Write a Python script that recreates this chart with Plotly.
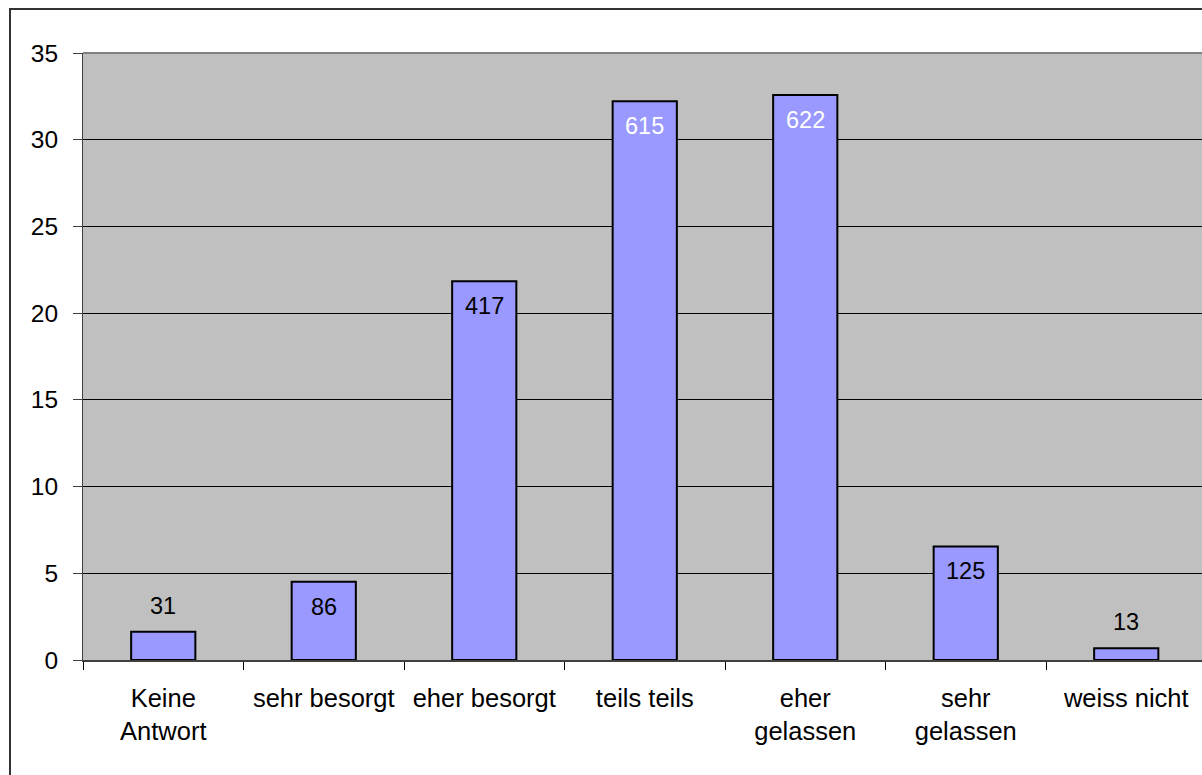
import plotly.graph_objects as go

# Survey answers and respondent counts per answer
categories = ["Keine<br>Antwort", "sehr besorgt", "eher besorgt", "teils teils",
              "eher<br>gelassen", "sehr<br>gelassen", "weiss nicht"]
counts = [31, 86, 417, 615, 622, 125, 13]
y_ticks = [0, 5, 10, 15, 20, 25, 30, 35]

# Bar height = share of all respondents in percent
total = sum(counts)
shares = [c / total * 100 for c in counts]

W, H = 1202, 775
ML, MR, MT, MB = 83, 0, 53, 115
FONT = "Liberation Sans, Arial, sans-serif"

fig = go.Figure()
fig.add_trace(go.Bar(
    x=categories, y=shares, width=0.4,
    marker=dict(color="#9999FF", line=dict(color="#000000", width=2)),
    hoverinfo="skip",
))

# Count labels: above short bars, inside the top of taller ones
label_colors = ["#000000", "#000000", "#000000", "#FFFFFF", "#FFFFFF", "#000000", "#000000"]
for cat, s, c, col in zip(categories, shares, counts, label_colors):
    outside = s < 3
    fig.add_annotation(
        x=cat, y=s, xref="x", yref="y", text=str(c), showarrow=False,
        yanchor="middle", yshift=26 if outside else -25,
        font=dict(family=FONT, size=23.5, color=col),
    )

plot_w = W - ML - MR
slot = 160.5  # width of one category slot in px
x_max = -0.5 + plot_w / slot

def px_to_paper_x(px):
    return (px - ML) / plot_w

def px_to_paper_y(py):
    return (H - MB - py) / (H - MT - MB)

# Outer chart frame (extends past the right and bottom page edges)
fig.add_shape(type="rect", xref="paper", yref="paper",
              x0=px_to_paper_x(10), x1=px_to_paper_x(W + 50),
              y0=px_to_paper_y(H + 50), y1=px_to_paper_y(9),
              line=dict(color="#333333", width=2), layer="below")
# Plot area top border
fig.add_shape(type="line", xref="paper", yref="paper", x0=0, x1=1, y0=1, y1=1,
              line=dict(color="#808080", width=2))

fig.update_layout(
    width=W, height=H,
    margin=dict(l=ML, r=MR, t=MT, b=MB, pad=0),
    paper_bgcolor="#FFFFFF", plot_bgcolor="#C0C0C0",
    showlegend=False, bargap=0.6,
    font=dict(family=FONT, size=24, color="#000000"),
)
fig.update_xaxes(
    type="category", range=[-0.5, x_max], tickson="boundaries",
    ticks="outside", ticklen=8, tickwidth=1, tickcolor="#000000",
    showline=True, linecolor="#404040", linewidth=2,
    showgrid=False, tickfont=dict(size=25.5), ticklabelstandoff=14,
)
fig.update_yaxes(
    range=[0, 35], tickvals=y_ticks, ticks="outside", ticklen=9, tickwidth=1,
    tickcolor="#404040", showline=True, linecolor="#404040", linewidth=1,
    showgrid=True, gridcolor="#000000", gridwidth=1, zeroline=False,
    tickfont=dict(size=24.5), ticklabelstandoff=10,
)

fig.write_html("out.html")
